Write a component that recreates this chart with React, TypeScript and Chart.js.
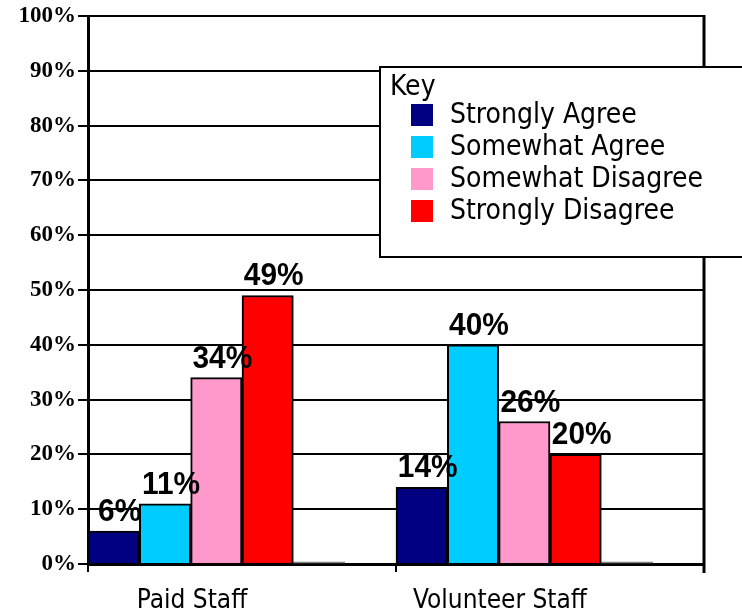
import React, { useEffect, useRef } from 'react';
import { Chart, registerables } from 'chart.js';

Chart.register(...registerables);

const categories = ['Paid Staff', 'Volunteer Staff'];
const seriesNames = ['Strongly Agree', 'Somewhat Agree', 'Somewhat Disagree', 'Strongly Disagree'];
const stronglyAgree = [6, 14];
const somewhatAgree = [11, 40];
const somewhatDisagree = [34, 26];
const stronglyDisagree = [49, 20];
const noAnswer = [0, 0];
const emptySlot = [0, 0];
const seriesColors = ['#000080', '#00CCFF', '#FF99CC', '#FF0000'];
const keyTitle = 'Key';
const yMax = 100;
const yStep = 10;

const SANS = '"DejaVu Sans Condensed", "DejaVu Sans", sans-serif';

const valueLabels = {
  id: 'valueLabels',
  afterDatasetsDraw(chart: any) {
    const ctx = chart.ctx;
    ctx.save();
    ctx.font = 'bold 29px "Liberation Sans", Arial, sans-serif';
    ctx.fillStyle = '#000';
    ctx.textAlign = 'center';
    ctx.textBaseline = 'alphabetic';
    chart.data.datasets.forEach((ds: any, i: number) => {
      if (!ds.label) return;
      const meta = chart.getDatasetMeta(i);
      meta.data.forEach((bar: any, j: number) => {
        ctx.save();
        ctx.translate(bar.x + 6, bar.y - 10);
        ctx.scale(1.03, 1.08);
        ctx.fillText(ds.data[j] + '%', 0, 0);
        ctx.restore();
      });
    });
    ctx.restore();
  },
};

const frame = {
  id: 'frame',
  beforeDatasetsDraw(chart: any) {
    const { ctx, chartArea } = chart;
    ctx.save();
    ctx.strokeStyle = '#000';
    ctx.lineWidth = 3;
    ctx.beginPath();
    ctx.moveTo(chartArea.right, chartArea.top - 1);
    ctx.lineTo(chartArea.right, chartArea.bottom + 9);
    ctx.stroke();
    ctx.restore();
  },
};

const keyBox = {
  id: 'keyBox',
  afterDraw(chart: any) {
    const ctx = chart.ctx;
    const x = 380, y = 67, w = 400, h = 190;
    ctx.save();
    ctx.fillStyle = '#fff';
    ctx.fillRect(x, y, w, h);
    ctx.strokeStyle = '#000';
    ctx.lineWidth = 2;
    ctx.strokeRect(x, y, w, h);
    ctx.fillStyle = '#000';
    ctx.font = '28px ' + SANS;
    ctx.textBaseline = 'middle';
    ctx.textAlign = 'left';
    ctx.fillText(keyTitle, x + 10, y + 21);
    const items = chart.data.datasets.filter((d: any) => d.label);
    items.forEach((d: any, i: number) => {
      const ry = y + 37 + i * 32;
      ctx.fillStyle = d.backgroundColor;
      ctx.fillRect(x + 31, ry, 22, 22);
      ctx.fillStyle = '#000';
      ctx.fillText(d.label, x + 70, ry + 12);
    });
    ctx.restore();
  },
};

export default function App() {
  const ref = useRef<HTMLCanvasElement>(null);
  useEffect(() => {
    document.body.style.margin = '0';
    const values = [stronglyAgree, somewhatAgree, somewhatDisagree, stronglyDisagree];
    const datasets: any[] = values.map((v, i) => ({
      label: seriesNames[i],
      data: v,
      backgroundColor: seriesColors[i],
      borderColor: '#000',
      borderWidth: 2,
      borderSkipped: 'bottom',
    }));
    datasets.push({ label: '', data: noAnswer, backgroundColor: '#7f7f7f', borderWidth: 0, minBarLength: 2 });
    datasets.push({ label: '', data: emptySlot, backgroundColor: 'rgba(0,0,0,0)', borderWidth: 0 });
    const chart = new Chart(ref.current as HTMLCanvasElement, {
      type: 'bar',
      data: { labels: categories, datasets },
      options: {
        responsive: false,
        animation: false,
        layout: { padding: { top: 16, right: 38, bottom: 0, left: 0 } },
        datasets: { bar: { categoryPercentage: 1, barPercentage: 1 } },
        plugins: { legend: { display: false }, tooltip: { enabled: false } },
        scales: {
          x: {
            grid: { drawOnChartArea: false, drawTicks: true, tickLength: 8, color: '#000', lineWidth: 2, offset: true },
            border: { color: '#000', width: 3 },
            ticks: {
              color: '#000',
              font: { family: SANS, size: 26 },
              padding: 14,
              labelOffset: -50,
              maxRotation: 0,
            },
            afterFit: (s: any) => { s.height = 51; },
          },
          y: {
            min: 0,
            max: yMax,
            grid: { color: '#000', lineWidth: 2, tickLength: 10 },
            border: { color: '#000', width: 3 },
            ticks: {
              stepSize: yStep,
              color: '#000',
              padding: 2,
              font: { family: '"Liberation Serif", "Times New Roman", serif', size: 23, weight: 'bold' },
              callback: (v: any) => v + '%',
            },
            afterFit: (s: any) => { s.width = 88; },
          },
        },
      },
      plugins: [frame, valueLabels, keyBox],
    });
    return () => chart.destroy();
  }, []);
  return <canvas ref={ref} width={742} height={615} style={{ display: 'block' }} />;
}
